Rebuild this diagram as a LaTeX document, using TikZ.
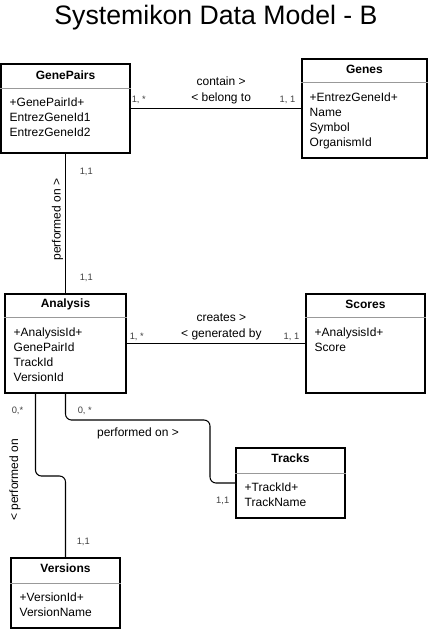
\documentclass[tikz,border=0pt]{standalone}
\usepackage{fontspec}
\setmainfont{Liberation Sans}
\usetikzlibrary{positioning, calc, fit}

\begin{document}
\begin{tikzpicture}[x=0.75pt, y=-0.75pt,
            entity/.style = {draw, line width=0.8pt, inner sep=0pt},
            head/.style = {font=\fontsize{9}{11}\selectfont\bfseries},
            attrs/.style = {anchor=north west, align=left, inner sep=0pt, font=\fontsize{9}{11.25}\selectfont},
            rule/.style = {draw=black!40, line width=0.6pt},
            link/.style = {line width=0.8pt, rounded corners=4.5pt},
            mult/.style = {inner sep=0pt, font=\fontsize{7}{8}\selectfont, text=black!75},
            role/.style = {inner sep=0pt, align=center, font=\fontsize{9}{12}\selectfont}]
            \useasboundingbox (0,0) rectangle (432,633);
            \node[font=\fontsize{20}{24}\selectfont] (title) at (216,18) {Systemikon Data Model - B};

            % GenePairs
            \node[entity, fit={(1,64) (130,153)}] (gp) {};
            \node[head] (gph) at ($(gp.north)+(0,12)$) {GenePairs};
            \draw[rule] ($(gp.north west)+(0,25)$) -- ($(gp.north east)+(0,25)$);
            \node[attrs] (gpa) at ($(gp.north west)+(9,34)$) {+GenePairId+\\EntrezGeneId1\\EntrezGeneId2};

            % Genes
            \node[entity, fit={(302,59) (427,158)}] (ge) {};
            \node[head] (geh) at ($(ge.north)+(0,11)$) {Genes};
            \draw[rule] ($(ge.north west)+(0,24)$) -- ($(ge.north east)+(0,24)$);
            \node[attrs] (gea) at ($(ge.north west)+(8,34)$) {+EntrezGeneId+\\Name\\Symbol\\OrganismId};

            % Analysis
            \node[entity, fit={(5,294) (126,393)}] (an) {};
            \node[head] (anh) at ($(an.north)+(0,11)$) {Analysis};
            \draw[rule] ($(an.north west)+(0,24)$) -- ($(an.north east)+(0,24)$);
            \node[attrs] (ana) at ($(an.north west)+(9,34)$) {+AnalysisId+\\GenePairId\\TrackId\\VersionId};

            % Scores
            \node[entity, fit={(306,294) (425,393)}] (sc) {};
            \node[head] (sch) at ($(sc.north)+(0,11)$) {Scores};
            \draw[rule] ($(sc.north west)+(0,24)$) -- ($(sc.north east)+(0,24)$);
            \node[attrs] (sca) at ($(sc.north west)+(9,34)$) {+AnalysisId+\\Score};

            % Tracks
            \node[entity, fit={(236,448) (345,518)}] (tr) {};
            \node[head] (trh) at ($(tr.north)+(0,11)$) {Tracks};
            \draw[rule] ($(tr.north west)+(0,26)$) -- ($(tr.north east)+(0,26)$);
            \node[attrs] (tra) at ($(tr.north west)+(9,35)$) {+TrackId+\\TrackName};

            % Versions
            \node[entity, fit={(11,558) (120,628)}] (vs) {};
            \node[head] (vsh) at ($(vs.north)+(0,11)$) {Versions};
            \draw[rule] ($(vs.north west)+(0,26)$) -- ($(vs.north east)+(0,26)$);
            \node[attrs] (vsa) at ($(vs.north west)+(9,35)$) {+VersionId+\\VersionName};

            % relations
            \draw[link] (gp.east) -- (ge.west)
                node[role, pos=0.53, above=3pt] (gpr) {contain >\\< belong to};
            \draw[link] (an.east) -- (sc.west)
                node[role, pos=0.53, above=2.5pt] (anr) {creates >\\< generated by};
            \draw[link] (gp.south) -- (an.north);
            \coordinate (avs) at ($(an.south west)+(31,0)$);
            \draw[link] (avs) |- (vs.north |- 0,476) -- (vs.north);
            \coordinate (bend) at (210,420);
            \draw[link] (an.south) |- (bend) |- (tr.west);

            \node[role, rotate=90, anchor=south] (pv1) at ($(gp.south)!0.5!(an.north)+(-2,-4)$) {performed on >};
            \node[role, rotate=90] (pv2) at (15,480) {< performed on};
            \node[role] (pv3) at (138,433) {performed on >};

            % multiplicities
            \node[mult, anchor=south west] at ($(gp.east)+(1,-5)$) {1, *};
            \node[mult, anchor=south east] at ($(ge.west)+(-6,-5)$) {1, 1};
            \node[mult, anchor=south west] at ($(an.east)+(3,-3)$) {1, *};
            \node[mult, anchor=south east] at ($(sc.west)+(-6,-3)$) {1, 1};
            \node[mult, anchor=west] at ($(gp.south)+(14,18)$) {1,1};
            \node[mult, anchor=west] at ($(an.north)+(14,-16)$) {1,1};
            \node[mult] at ($(an.south west)+(13,17)$) {0,*};
            \node[mult, anchor=west] at ($(an.south)+(12,17)$) {0, *};
            \node[mult, anchor=west] at ($(vs.north)+(11,-16)$) {1,1};
            \node[mult, anchor=east] at ($(tr.west)+(-6,18)$) {1,1};
\end{tikzpicture}
\end{document}
